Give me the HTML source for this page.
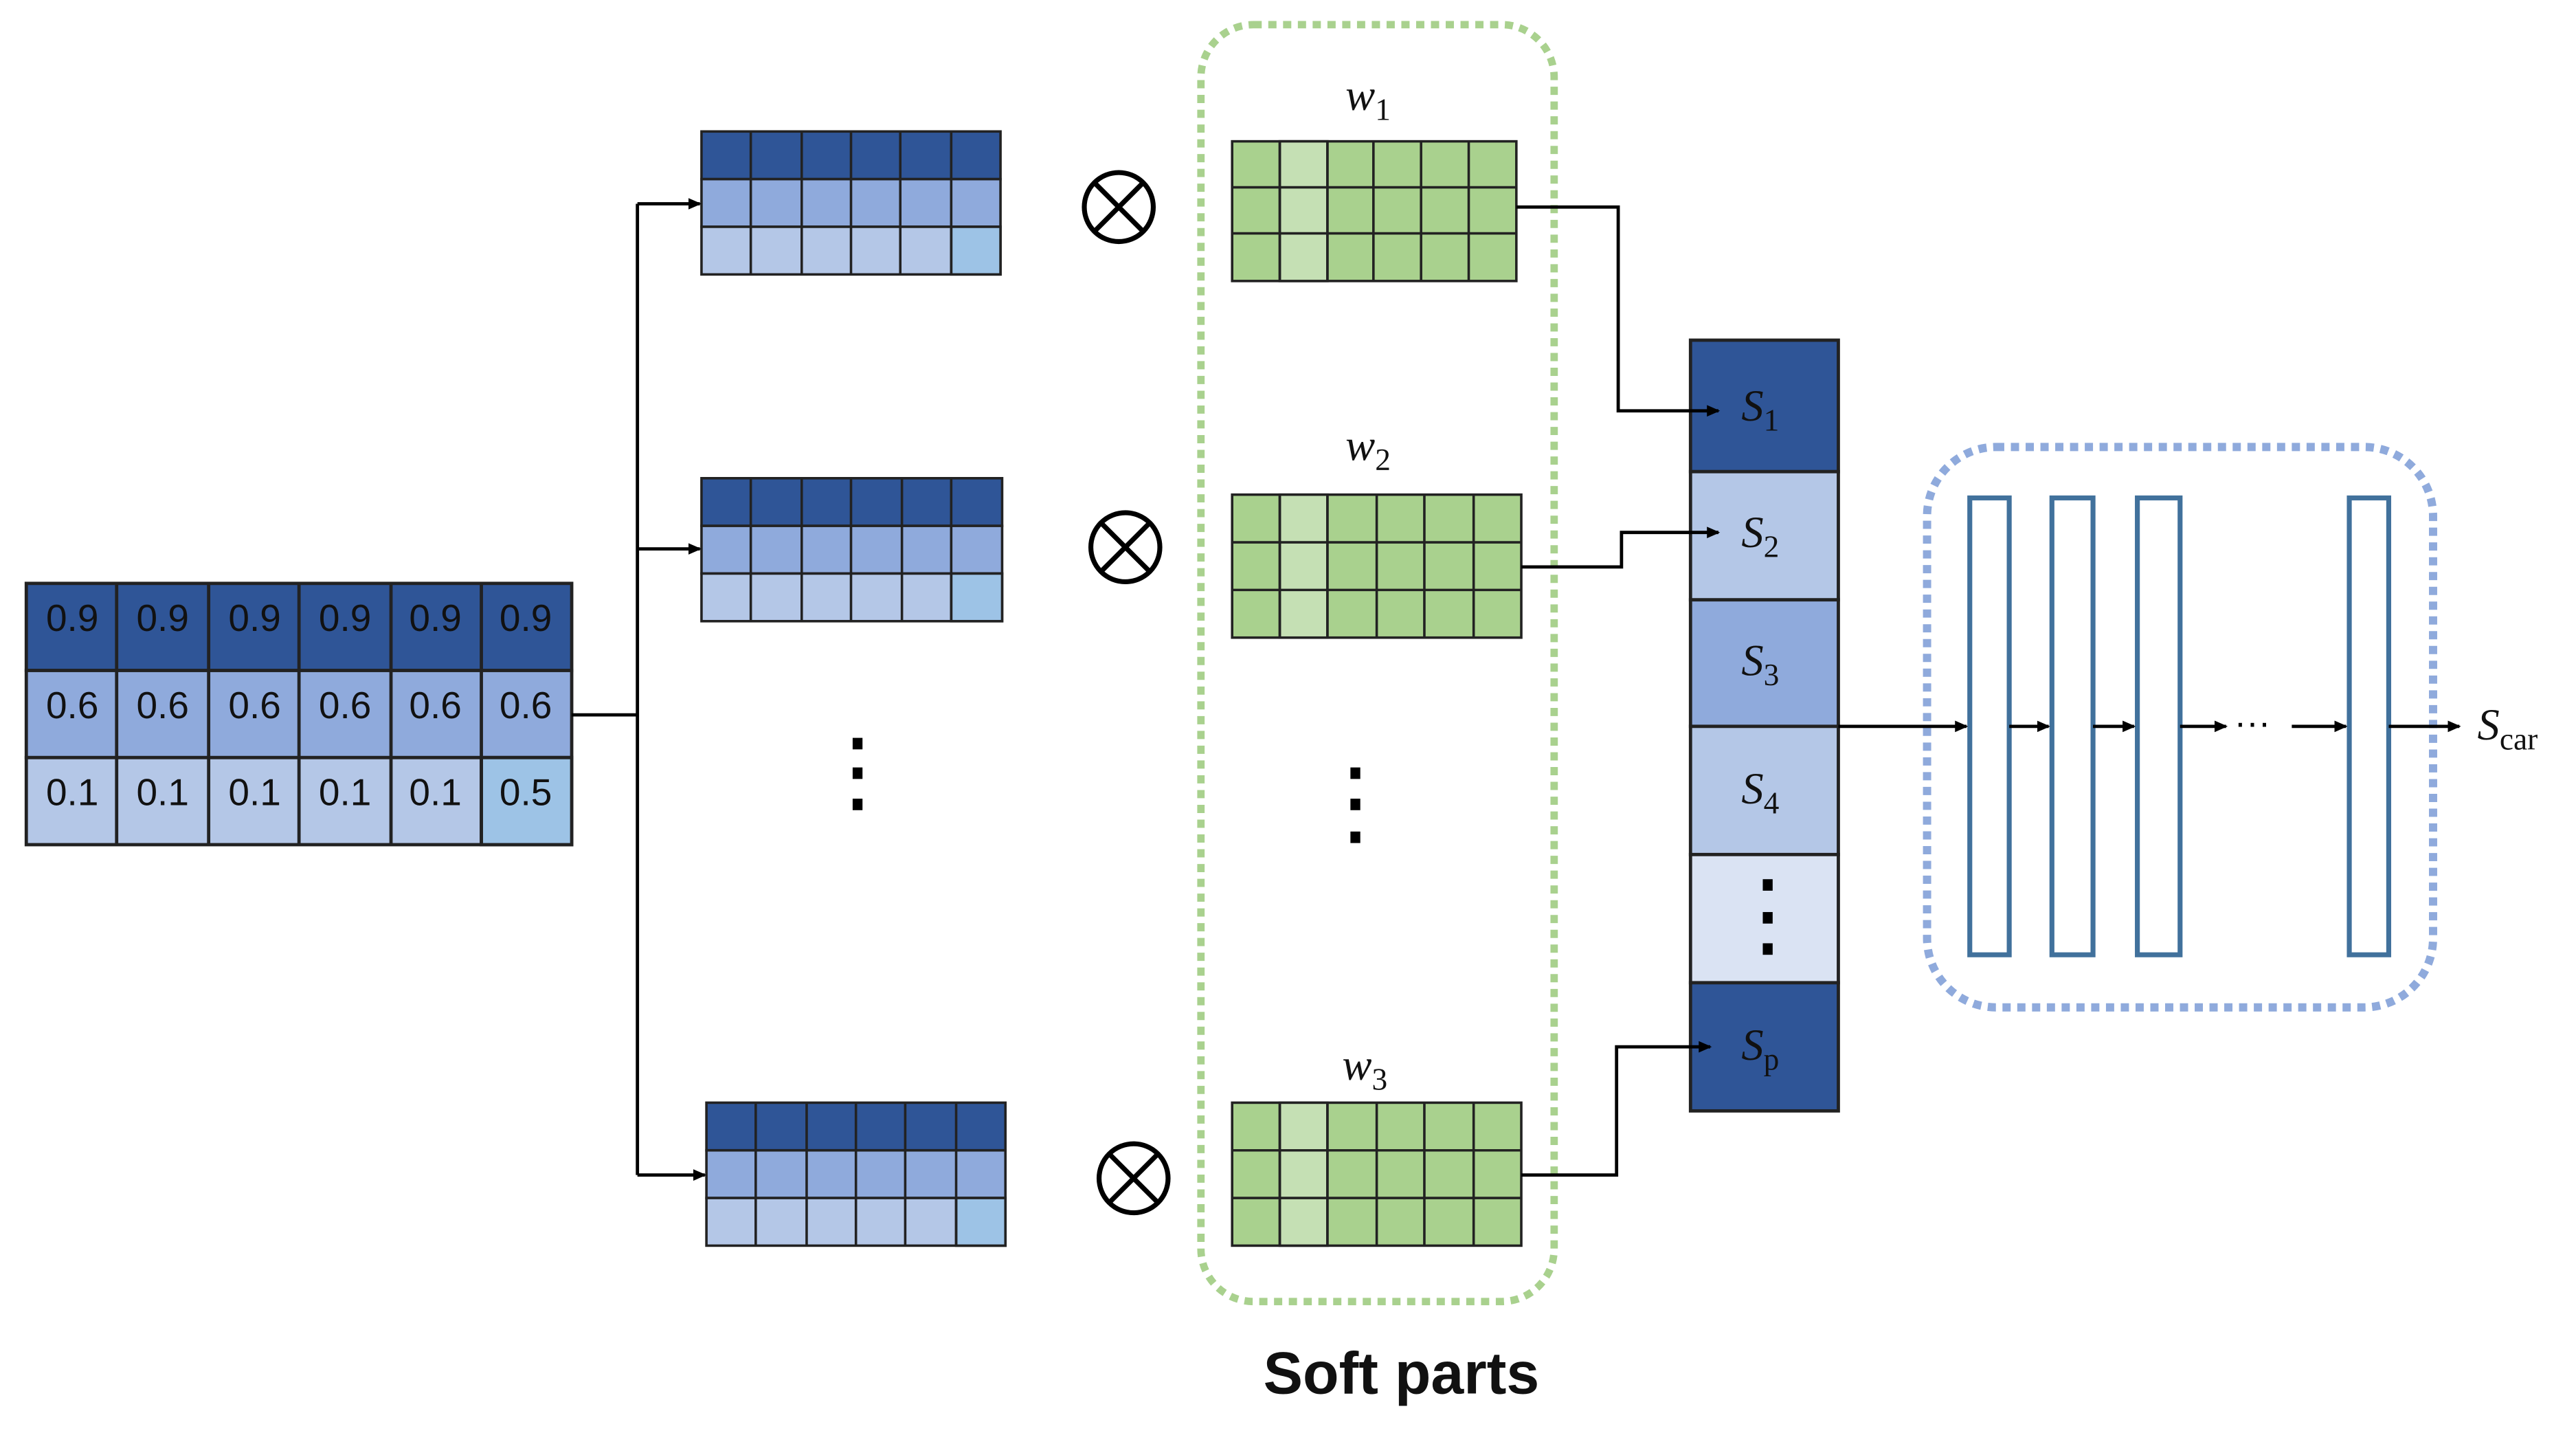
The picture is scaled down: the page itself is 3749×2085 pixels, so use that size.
<!DOCTYPE html>
<html><head><meta charset="utf-8"><style>
html,body{margin:0;padding:0;background:#fff}
svg{display:block}
.n{font-family:"Liberation Sans",sans-serif;font-size:23px;fill:#111;text-anchor:middle}
.m{font-family:"Liberation Serif",serif;font-style:italic;font-size:27px;fill:#111}
.sub{font-size:19px;font-style:normal}
</style></head><body>
<svg width="3749" height="2085" viewBox="0 0 1568 872" preserveAspectRatio="none" xmlns="http://www.w3.org/2000/svg">
<defs>
<marker id="a" markerWidth="8" markerHeight="8" refX="7" refY="4" orient="auto" markerUnits="userSpaceOnUse"><path d="M0,0.5 L8,4 L0,7.5z" fill="#000"/></marker>
</defs>
<!-- main grid -->
<g stroke="#222" stroke-width="2">
<rect x="16" y="355" width="332" height="53" fill="#2F5597"/>
<rect x="16" y="408" width="332" height="53" fill="#8FAADC"/>
<rect x="16" y="461" width="332" height="53" fill="#B4C7E7"/>
<rect x="293" y="461" width="55" height="53" fill="#9DC3E6"/>
<path d="M71 355V514M127 355V514M182 355V514M238 355V514M293 355V514"/>
</g>
<g class="n">
<text x="44" y="384">0.9</text><text x="99" y="384">0.9</text><text x="155" y="384">0.9</text><text x="210" y="384">0.9</text><text x="265" y="384">0.9</text><text x="320" y="384">0.9</text>
<text x="44" y="437">0.6</text><text x="99" y="437">0.6</text><text x="155" y="437">0.6</text><text x="210" y="437">0.6</text><text x="265" y="437">0.6</text><text x="320" y="437">0.6</text>
<text x="44" y="490">0.1</text><text x="99" y="490">0.1</text><text x="155" y="490">0.1</text><text x="210" y="490">0.1</text><text x="265" y="490">0.1</text><text x="320" y="490">0.5</text>
</g>
<!-- small blue grids -->
<g stroke="#222" stroke-width="1.5">
<g transform="translate(427,80)">
<rect width="182" height="29" fill="#2F5597"/><rect y="29" width="182" height="29" fill="#8FAADC"/><rect y="58" width="182" height="29" fill="#B4C7E7"/><rect x="152" y="58" width="30" height="29" fill="#9DC3E6"/>
<path d="M30 0V87M61 0V87M91 0V87M121 0V87M152 0V87"/></g>
<g transform="translate(427,291)">
<rect width="183" height="29" fill="#2F5597"/><rect y="29" width="183" height="29" fill="#8FAADC"/><rect y="58" width="183" height="29" fill="#B4C7E7"/><rect x="152" y="58" width="31" height="29" fill="#9DC3E6"/>
<path d="M30 0V87M61 0V87M91 0V87M122 0V87M152 0V87"/></g>
<g transform="translate(430,671)">
<rect width="182" height="29" fill="#2F5597"/><rect y="29" width="182" height="29" fill="#8FAADC"/><rect y="58" width="182" height="29" fill="#B4C7E7"/><rect x="152" y="58" width="30" height="29" fill="#9DC3E6"/>
<path d="M30 0V87M61 0V87M91 0V87M121 0V87M152 0V87"/></g>
</g>
<!-- green grids -->
<g stroke="#222" stroke-width="1.5">
<g transform="translate(750,86)"><rect width="173" height="85" fill="#A9D18E"/><rect x="29" width="29" height="85" fill="#C5E0B4"/>
<path d="M0 28H173M0 56H173M29 0V85M58 0V85M86 0V85M115 0V85M144 0V85"/></g>
<g transform="translate(750,301)"><rect width="176" height="87" fill="#A9D18E"/><rect x="29" width="29" height="87" fill="#C5E0B4"/>
<path d="M0 29H176M0 58H176M29 0V87M58 0V87M88 0V87M117 0V87M147 0V87"/></g>
<g transform="translate(750,671)"><rect width="176" height="87" fill="#A9D18E"/><rect x="29" width="29" height="87" fill="#C5E0B4"/>
<path d="M0 29H176M0 58H176M29 0V87M58 0V87M88 0V87M117 0V87M147 0V87"/></g>
</g>
<rect x="731" y="15" width="215" height="777" rx="32" fill="none" stroke="#A9D18E" stroke-width="4.5" stroke-dasharray="5 4"/>
<!-- otimes -->
<g fill="none" stroke="#000" stroke-width="3">
<circle cx="681" cy="126" r="21"/><path d="M666 111L696 141M696 111L666 141"/>
<circle cx="685" cy="333" r="21"/><path d="M670 318L700 348M700 318L670 348"/>
<circle cx="690" cy="717" r="21"/><path d="M675 702L705 732M705 702L675 732"/>
</g>
<!-- dots -->
<g fill="#000"><rect x="519" y="449" width="6" height="7"/><rect x="519" y="467" width="6" height="7"/><rect x="519" y="486" width="6" height="7"/>
<rect x="822" y="467" width="6" height="7"/><rect x="822" y="486" width="6" height="7"/><rect x="822" y="506" width="6" height="7"/></g>
<text class="m" x="819" y="67">w<tspan class="sub" dy="6">1</tspan></text>
<text class="m" x="819" y="280">w<tspan class="sub" dy="6">2</tspan></text>
<text class="m" x="817" y="657">w<tspan class="sub" dy="6">3</tspan></text>
<!-- S column -->
<g stroke="#222" stroke-width="2">
<rect x="1029" y="207" width="90" height="80" fill="#2F5597"/>
<rect x="1029" y="287" width="90" height="78" fill="#B4C7E7"/>
<rect x="1029" y="365" width="90" height="77" fill="#8FAADC"/>
<rect x="1029" y="442" width="90" height="78" fill="#B4C7E7"/>
<rect x="1029" y="520" width="90" height="78" fill="#DAE3F3"/>
<rect x="1029" y="598" width="90" height="78" fill="#2F5597"/>
</g>
<!-- connectors -->
<g fill="none" stroke="#000" stroke-width="2">
<path d="M348 435H388M388 124V715"/>
<path d="M388 124H426" marker-end="url(#a)"/><path d="M388 334H426" marker-end="url(#a)"/><path d="M388 715H429" marker-end="url(#a)"/>
<path d="M923 126H985V250H1046" marker-end="url(#a)"/>
<path d="M926 345H987V324H1046" marker-end="url(#a)"/>
<path d="M926 715H984V637H1041" marker-end="url(#a)"/>
</g>
<g fill="#000"><rect x="1073" y="535" width="6" height="7"/><rect x="1073" y="555" width="6" height="7"/><rect x="1073" y="574" width="6" height="7"/></g>
<g class="m"><text x="1060" y="256">S<tspan class="sub" dy="6">1</tspan></text>
<text x="1060" y="333">S<tspan class="sub" dy="6">2</tspan></text>
<text x="1060" y="411">S<tspan class="sub" dy="6">3</tspan></text>
<text x="1060" y="489">S<tspan class="sub" dy="6">4</tspan></text>
<text x="1060" y="645">S<tspan class="sub" dy="6">p</tspan></text></g>
<!-- FC block -->
<rect x="1173" y="272" width="308" height="341" rx="42" fill="none" stroke="#8FAADC" stroke-width="5" stroke-dasharray="5 4"/>
<g fill="#fff" stroke="#41719C" stroke-width="3">
<rect x="1199" y="303" width="24" height="278"/><rect x="1249" y="303" width="25" height="278"/><rect x="1301" y="303" width="26" height="278"/><rect x="1430" y="303" width="24" height="278"/>
</g>
<g fill="none" stroke="#000" stroke-width="2">
<path d="M1119 442H1197" marker-end="url(#a)"/><path d="M1223 442H1247" marker-end="url(#a)"/><path d="M1274 442H1299" marker-end="url(#a)"/><path d="M1327 442H1355" marker-end="url(#a)"/><path d="M1395 442H1428" marker-end="url(#a)"/><path d="M1454 442H1497" marker-end="url(#a)"/>
</g>
<text x="1360" y="447" font-family="Liberation Sans,sans-serif" font-size="22" fill="#000">···</text>
<text class="m" x="1508" y="450">S<tspan class="sub" font-size="21" dy="6">car</tspan></text>
<text x="853" y="848" font-family="Liberation Sans,sans-serif" font-weight="bold" font-size="36" fill="#111" text-anchor="middle">Soft parts</text>
</svg>
</body></html>
